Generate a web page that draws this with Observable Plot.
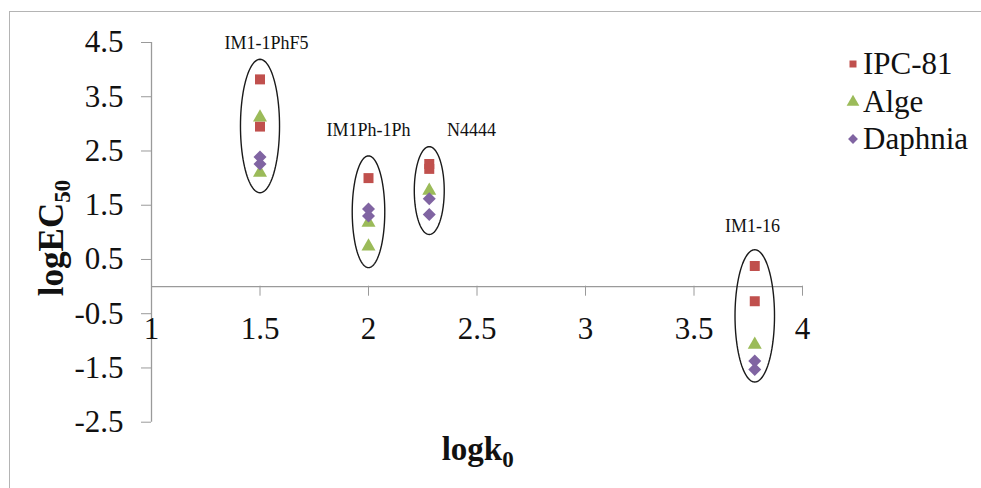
<!DOCTYPE html>
<html><head><meta charset="utf-8">
<script src="https://cdn.jsdelivr.net/npm/d3@7"></script>
<script src="https://cdn.jsdelivr.net/npm/@observablehq/plot@0.6"></script>
<style>
body{margin:0;background:#fff;}
#wrap{position:relative;width:981px;height:488px;overflow:hidden;background:#fff;}
#frame{position:absolute;left:9px;top:11px;width:1000px;height:520px;border-left:1.5px solid #b4b4b4;border-top:1.5px solid #b4b4b4;}
#wrap svg{position:absolute;left:0;top:0;}
</style></head>
<body><div id="wrap"><div id="frame"></div></div>
<script>
// ---- data ----
const compounds = ["IM1-1PhF5", "IM1Ph-1Ph", "N4444", "IM1-16"];
const logk0 = [1.50, 2.00, 2.28, 3.78];
const ipc81 = [[3.82, 2.95], [2.00], [2.26, 2.17], [0.38, -0.27]];
const alge = [[3.12, 2.10], [1.18, 0.74], [1.77], [-1.07]];
const daphnia = [[2.39, 2.26], [1.43, 1.30], [1.62, 1.33], [-1.37, -1.53]];
const seriesNames = ["IPC-81", "Alge", "Daphnia"];
const xTicks = [1, 1.5, 2, 2.5, 3, 3.5, 4];
const yTicks = [4.5, 3.5, 2.5, 1.5, 0.5, -0.5, -1.5, -2.5];
// group ellipses (centre y, half-width in x units, half-height in y units)
const ellipseCy = [2.96, 1.38, 1.77, -0.54];
const ellipseRx = [0.090, 0.075, 0.069, 0.091];
const ellipseRy = [1.23, 1.03, 0.81, 1.22];
// group label anchors
const labelX = [1.53, 2.00, 2.475, 3.77];
const labelY = [4.48, 2.89, 2.89, 1.11];

const colors = {"IPC-81": "#C0504D", "Alge": "#9BBB59", "Daphnia": "#8064A2"};
const serif = "'Liberation Serif', 'Times New Roman', serif";

const rows = (series) => compounds.flatMap((c, i) => series[i].map(v => ({compound: c, x: logk0[i], y: v})));
const ellipsePts = compounds.flatMap((c, i) => d3.range(0, 97).map(k => {
  const t = k / 96 * 2 * Math.PI;
  return {g: c, x: logk0[i] + ellipseRx[i] * Math.cos(t), y: ellipseCy[i] + ellipseRy[i] * Math.sin(t)};
}));
const labels = compounds.map((c, i) => ({text: c, x: labelX[i], y: labelY[i]}));

const plot = Plot.plot({
  width: 981, height: 488,
  marginLeft: 151, marginRight: 179, marginTop: 42, marginBottom: 202.3,
  style: {fontFamily: serif, background: "transparent", color: "#000"},
  x: {domain: [1, 4]},
  y: {domain: [-2.5, 4.5], range: [421.7, 42]},
  marks: [
    Plot.ruleX([1], {y1: -2.5, y2: 4.5, stroke: "#9a9a9a", strokeWidth: 1.3}),
    Plot.ruleY([0], {x1: 1, x2: 4, stroke: "#9a9a9a", strokeWidth: 1.3}),
    Plot.axisY({ticks: yTicks, tickSize: 10, tickPadding: 18, fontSize: 31, stroke: "#9a9a9a", fill: "#111", label: null, tickFormat: d => String(d)}),
    Plot.axisX({ticks: xTicks, tickSize: 10, tickPadding: 21, fontSize: 31, stroke: "#9a9a9a", fill: "#111", label: null, tickFormat: d => String(d)}),
    Plot.line(ellipsePts, {x: "x", y: "y", z: "g", stroke: "#1a1a1a", strokeWidth: 1.4}),
    Plot.dot(rows(ipc81), {x: "x", y: "y", symbol: "square", r: 5.64, fill: colors["IPC-81"]}),
    Plot.dot(rows(alge), {x: "x", y: "y", symbol: "triangle", r: 5.2, fill: colors["Alge"]}),
    Plot.dot(rows(daphnia), {x: "x", y: "y", symbol: "diamond2", r: 5.86, fill: colors["Daphnia"]}),
    Plot.text(labels, {x: "x", y: "y", text: "text", fontSize: 18, fill: "#111"})
  ]
});

const svg = d3.select(plot);
// axis titles
const yt = svg.append("text")
  .attr("transform", "translate(63,238) rotate(-90)")
  .attr("text-anchor", "middle")
  .style("font-family", serif).style("font-weight", "bold")
  .style("font-size", "35px").attr("fill", "#111");
yt.append("tspan").text("logEC");
yt.append("tspan").style("font-size", "23px").attr("dy", 7).text("50");

const xt = svg.append("text")
  .attr("x", 441.7).attr("y", 460)
  .attr("text-anchor", "start")
  .style("font-family", serif).style("font-weight", "bold")
  .style("font-size", "33px").attr("fill", "#111");
xt.append("tspan").text("logk");
xt.append("tspan").style("font-size", "23px").attr("dy", 7).text("0");

// legend
const legY = [63, 101, 138];
const legSym = [d3.symbolSquare, d3.symbolTriangle, d3.symbolDiamond2];
const legSize = [49, 70, 62];
const leg = svg.append("g");
seriesNames.forEach((s, i) => {
  leg.append("path")
    .attr("d", d3.symbol(legSym[i], legSize[i])())
    .attr("transform", `translate(853,${legY[i] + 1})`)
    .attr("fill", colors[s]);
  leg.append("text")
    .attr("x", 863).attr("y", legY[i]).attr("dy", "0.35em")
    .attr("text-anchor", "start")
    .style("font-family", serif).style("font-size", "31px").attr("fill", "#111")
    .text(s);
});

document.getElementById("wrap").appendChild(plot);
</script>
</body></html>
